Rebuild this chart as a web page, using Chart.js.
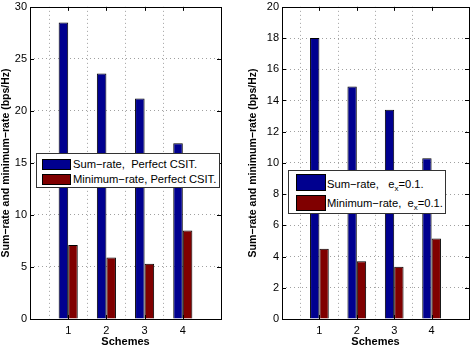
<!DOCTYPE html>
<html>
<head>
<meta charset="utf-8">
<script src="https://cdn.jsdelivr.net/npm/chart.js@4"></script>
<style>
  html, body { margin: 0; padding: 0; background: #fff; width: 474px; height: 346px; overflow: hidden;
    font-family: "Liberation Sans", Arial, Helvetica, sans-serif; }
  .panel { position: absolute; top: 0; height: 346px; }
  .legend { position: absolute; background: #fff; border: 1px solid #333; box-sizing: border-box; }
  .entry { position: absolute; white-space: pre; font-size: 11.2px; line-height: 13px; color: #000; }
  .swatch { position: absolute; border: 1px solid #000; box-sizing: border-box; }
  .entry sub { font-size: 8px; vertical-align: -3px; line-height: 0; }
</style>
</head>
<body>
<div class="panel" style="left:0;width:236px"><canvas id="left" width="236" height="346"></canvas></div>
<div class="panel" style="left:237px;width:237px"><canvas id="right" width="237" height="346"></canvas></div>

<script>
// Schemes on the x axis
const schemes = ['1', '2', '3', '4'];

// Left panel: perfect CSIT
const sumRatePerfect = [28.5, 23.6, 21.2, 16.9];
const minRatePerfect = [7.1, 5.9, 5.3, 8.5];

// Right panel: channel estimation error e_x = 0.1
const sumRateErr = [18.0, 14.9, 13.4, 10.3];
const minRateErr = [4.5, 3.7, 3.35, 5.15];

// Tick labels
const leftYTicks = [0, 5, 10, 15, 20, 25, 30];
const rightYTicks = [0, 2, 4, 6, 8, 10, 12, 14, 16, 18, 20];

// Legend texts: [main text, subscript, trailing text]
const leftLegend = [
  ['Sum\u2212rate,  Perfect CSIT.', '', ''],
  ['Minimum\u2212rate, Perfect CSIT.', '', '']
];
const rightLegend = [
  ['Sum\u2212rate,   e', 'x', '=0.1.'],
  ['Minimum\u2212rate,  e', 'x', '=0.1.']
];

const BLUE = '#00008f';
const RED = '#800000';
const FONT = '"Liberation Sans", Arial, Helvetica, sans-serif';

// Axis positions 0 and 5 are empty so the schemes sit at 1..4
const cats = ['', ...schemes, ''];
const pad = arr => [null, ...arr, null];

// MATLAB-style box with inward tick marks
const framePlugin = {
  id: 'frame',
  afterDraw(chart) {
    const { ctx, chartArea: a, scales } = chart;
    ctx.save();
    ctx.strokeStyle = '#000';
    ctx.lineWidth = 1;
    ctx.beginPath();
    const yScale = scales.y, xScale = scales.x;
    yScale.ticks.forEach(t => {
      const py = Math.round(yScale.getPixelForValue(t.value)) + 0.5;
      ctx.moveTo(a.left, py); ctx.lineTo(a.left + 4, py);
      ctx.moveTo(a.right, py); ctx.lineTo(a.right - 4, py);
    });
    xScale.ticks.forEach((t, i) => {
      if (i === 0 || i === xScale.ticks.length - 1) return;
      const px = Math.round(xScale.getPixelForValue(i)) + 0.5;
      ctx.moveTo(px, a.bottom); ctx.lineTo(px, a.bottom - 4);
      ctx.moveTo(px, a.top); ctx.lineTo(px, a.top + 4);
    });
    ctx.stroke();
    ctx.strokeRect(Math.round(a.left) + 0.5, Math.round(a.top) + 0.5,
                   Math.round(a.right - a.left), Math.round(a.bottom - a.top));
    ctx.restore();
  }
};

function makeChart(id, sums, mins, yTicks, yWidth, padding) {
  const yMax = yTicks[yTicks.length - 1];
  return new Chart(document.getElementById(id), {
    type: 'bar',
    data: {
      labels: cats,
      datasets: [
        { label: 'Sum-rate', data: pad(sums), backgroundColor: BLUE, borderColor: '#000', borderWidth: 1 },
        { label: 'Minimum-rate', data: pad(mins), backgroundColor: RED, borderColor: '#000', borderWidth: 1 }
      ]
    },
    options: {
      responsive: false,
      animation: false,
      layout: { padding },
      datasets: { bar: { barPercentage: 1, categoryPercentage: 0.5 } },
      plugins: { legend: { display: false }, tooltip: { enabled: false } },
      scales: {
        x: {
          offset: false,
          grid: {
            drawTicks: false,
            color: c => (c.index === 0 || c.index === cats.length - 1) ? 'rgba(0,0,0,0)' : '#a0a0a0'
          },
          border: { display: false, dash: [1, 3] },
          ticks: { color: '#000', padding: 5, font: { family: FONT, size: 11 }, autoSkip: false, maxRotation: 0 },
          title: { display: true, text: 'Schemes', color: '#000', padding: 0,
                   font: { family: FONT, size: 11, weight: 'bold', lineHeight: 0.8 } },
          afterFit: s => { s.height = 27; }
        },
        y: {
          min: 0,
          max: yMax,
          afterBuildTicks: s => { s.ticks = yTicks.map(v => ({ value: v })); },
          grid: {
            drawTicks: false,
            color: c => (c.tick && (c.tick.value === 0 || c.tick.value === yMax)) ? 'rgba(0,0,0,0)' : '#a0a0a0'
          },
          border: { display: false, dash: [1, 3] },
          ticks: { color: '#000', padding: 3, font: { family: FONT, size: 11, lineHeight: 0.7 } },
          title: { display: true, text: 'Sum\u2212rate and minimum\u2212rate (bps/Hz)', color: '#000', padding: 0,
                   font: { family: FONT, size: 10.5, weight: 'bold' } },
          afterFit: s => { s.width = yWidth; }
        }
      }
    },
    plugins: [framePlugin]
  });
}

const leftChart = makeChart('left', sumRatePerfect, minRatePerfect, leftYTicks, 30,
  { left: 0, right: 15, top: 4, bottom: 0 });
const rightChart = makeChart('right', sumRateErr, minRateErr, rightYTicks, 35,
  { left: 10, right: 2, top: 4, bottom: 0 });

// Legend boxes placed inside the plot areas
function buildLegend(chart, texts, box, rows) {
  const el = document.createElement('div');
  el.className = 'legend';
  Object.assign(el.style, { left: box.x + 'px', top: box.y + 'px', width: box.w + 'px', height: box.h + 'px' });
  chart.data.datasets.forEach((ds, i) => {
    const r = rows[i];
    const sw = document.createElement('div');
    sw.className = 'swatch';
    Object.assign(sw.style, { left: r.sx + 'px', top: r.sy + 'px', width: r.sw + 'px', height: r.sh + 'px',
                              background: ds.backgroundColor });
    el.appendChild(sw);
    const t = document.createElement('div');
    t.className = 'entry';
    t.style.left = r.tx + 'px';
    t.style.top = r.ty + 'px';
    const [main, sub, tail] = texts[i];
    t.appendChild(document.createTextNode(main));
    if (sub) {
      const s = document.createElement('sub');
      s.textContent = sub;
      t.appendChild(s);
    }
    if (tail) t.appendChild(document.createTextNode(tail));
    el.appendChild(t);
  });
  document.body.appendChild(el);
}

buildLegend(leftChart, leftLegend, { x: 36, y: 153, w: 184, h: 35 }, [
  { sx: 5, sy: 5, sw: 29, sh: 11, tx: 36, ty: 4 },
  { sx: 5, sy: 20, sw: 29, sh: 11, tx: 36, ty: 19 }
]);
buildLegend(rightChart, rightLegend, { x: 288, y: 170, w: 158, h: 44 }, [
  { sx: 7, sy: 3, sw: 30, sh: 17, tx: 38, ty: 7 },
  { sx: 7, sy: 24, sw: 30, sh: 16, tx: 38, ty: 26 }
]);
</script>
</body>
</html>
